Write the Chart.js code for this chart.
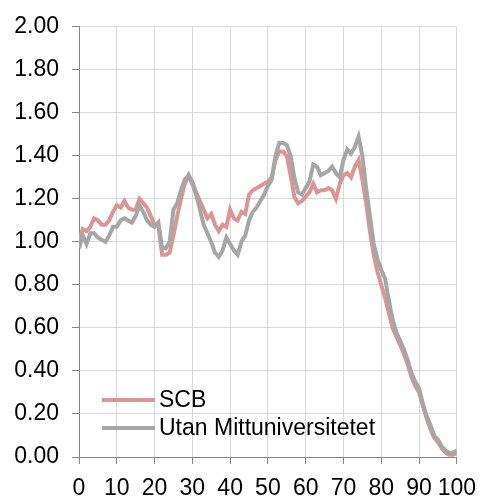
<!DOCTYPE html>
<html>
<head>
<meta charset="utf-8">
<script src="https://cdn.jsdelivr.net/npm/chart.js@4/dist/chart.umd.min.js"></script>
<style>
  html, body { margin: 0; padding: 0; background: #fff; }
  #wrap { position: relative; width: 487px; height: 496px; }
</style>
</head>
<body>
<div id="wrap"><canvas id="c1" width="487" height="496"></canvas></div>
<script>
  // series values, one per percentile 0..100
  var scbValues = [
    1.00, 1.06, 1.05, 1.07, 1.11, 1.10, 1.08, 1.08, 1.10, 1.14,
    1.17, 1.16, 1.19, 1.16, 1.15, 1.15, 1.20, 1.18, 1.16, 1.12,
    1.08, 1.08, 0.94, 0.94, 0.95, 1.03, 1.12, 1.20, 1.27, 1.31,
    1.28, 1.23, 1.19, 1.15, 1.11, 1.13, 1.08, 1.05, 1.08, 1.07,
    1.15, 1.11, 1.10, 1.14, 1.13, 1.22, 1.24, 1.25, 1.26, 1.27,
    1.28, 1.30, 1.38, 1.42, 1.42, 1.40, 1.31, 1.21, 1.18, 1.19,
    1.21, 1.23, 1.27, 1.23, 1.24, 1.24, 1.25, 1.24, 1.20, 1.27,
    1.31, 1.32, 1.30, 1.35, 1.38, 1.29, 1.18, 1.05, 0.94, 0.86,
    0.80, 0.74, 0.67, 0.60, 0.56, 0.52, 0.48, 0.43, 0.37, 0.33,
    0.30, 0.24, 0.18, 0.13, 0.09, 0.07, 0.04, 0.02, 0.01, 0.01,
    0.02
  ]
  var utanValues = [
    0.97, 1.03, 0.99, 1.04, 1.04, 1.02, 1.01, 1.00, 1.03, 1.07,
    1.07, 1.10, 1.11, 1.10, 1.09, 1.12, 1.17, 1.14, 1.10, 1.08,
    1.07, 1.09, 0.97, 0.97, 1.00, 1.15, 1.18, 1.24, 1.29, 1.31,
    1.27, 1.22, 1.15, 1.08, 1.04, 1.00, 0.95, 0.93, 0.96, 1.02,
    0.99, 0.96, 0.94, 1.00, 1.03, 1.10, 1.14, 1.16, 1.19, 1.22,
    1.26, 1.29, 1.40, 1.46, 1.46, 1.45, 1.40, 1.30, 1.23, 1.22,
    1.25, 1.28, 1.36, 1.35, 1.31, 1.32, 1.33, 1.35, 1.32, 1.30,
    1.38, 1.43, 1.41, 1.44, 1.49, 1.40, 1.25, 1.12, 0.99, 0.92,
    0.87, 0.83, 0.73, 0.64, 0.58, 0.54, 0.50, 0.45, 0.39, 0.35,
    0.32, 0.25, 0.19, 0.15, 0.10, 0.08, 0.05, 0.03, 0.02, 0.02,
    0.03
  ]
  var seriesNames = ['SCB', 'Utan Mittuniversitetet']
  var xTickStep = 10
  var yTickStep = 0.2

  var percentiles = scbValues.map(function(v, i) { return i })

  function toPoints(values) {
    return values.map(function(v, i) {
      return { x: percentiles[i], y: v }
    })
  }

  var fontFamily = '"Liberation Sans", Arial, sans-serif'
  var axisGrey = '#868686'
  var gridGrey = '#D9D9D9'

  // legend drawn inside the plot, bottom left (as in the original)
  var insideLegend = {
    id: 'insideLegend',
    afterDatasetsDraw: function(chart) {
      var ctx = chart.ctx
      var area = chart.chartArea
      var x0 = area.left + 23
      var rows = [area.bottom - 57, area.bottom - 29]
      ctx.save()
      ctx.font = '23px ' + fontFamily
      ctx.textBaseline = 'middle'
      chart.data.datasets.forEach(function(ds, i) {
        var y = rows[i]
        ctx.strokeStyle = ds.borderColor
        ctx.lineWidth = 4
        ctx.beginPath()
        ctx.moveTo(x0, y)
        ctx.lineTo(x0 + 53, y)
        ctx.stroke()
        ctx.fillStyle = '#000'
        ctx.fillText(ds.label, x0 + 57, y + 1)
      })
      ctx.restore()
    }
  }

  var ctx = document.getElementById('c1')
  var chart1 = new Chart(ctx, {
    type: 'line',
    data: {
      datasets: [{
        label: seriesNames[0],
        data: toPoints(scbValues),
        borderColor: '#D99694',
        backgroundColor: '#D99694',
        borderWidth: 4,
        pointRadius: 0,
        tension: 0,
        order: 1
      }, {
        label: seriesNames[1],
        data: toPoints(utanValues),
        borderColor: '#A6A6A6',
        backgroundColor: '#A6A6A6',
        borderWidth: 4,
        pointRadius: 0,
        tension: 0,
        order: 0
      }]
    },
    options: {
      responsive: false,
      animation: false,
      devicePixelRatio: 1,
      layout: { padding: { top: 22, right: 27, left: 0, bottom: 0 } },
      plugins: {
        legend: { display: false },
        tooltip: { enabled: false }
      },
      scales: {
        x: {
          type: 'linear',
          min: 0,
          max: 100,
          grid: { color: gridGrey, tickColor: axisGrey, tickLength: 7 },
          border: { color: axisGrey },
          ticks: {
            stepSize: xTickStep,
            autoSkip: false,
            maxRotation: 0,
            padding: 11,
            color: '#000',
            font: { family: fontFamily, size: 23 }
          },
          afterFit: function(scale) { scale.height = 39 }
        },
        y: {
          min: 0,
          max: 2,
          grid: { color: gridGrey, tickColor: axisGrey, tickLength: 7 },
          border: { color: axisGrey },
          ticks: {
            stepSize: yTickStep,
            padding: 13,
            color: '#000',
            font: { family: fontFamily, size: 23 },
            callback: function(v) { return Number(v).toFixed(2) }
          },
          afterFit: function(scale) { scale.width = 79 }
        }
      }
    },
    plugins: [insideLegend]
  })
</script>
</body>
</html>
